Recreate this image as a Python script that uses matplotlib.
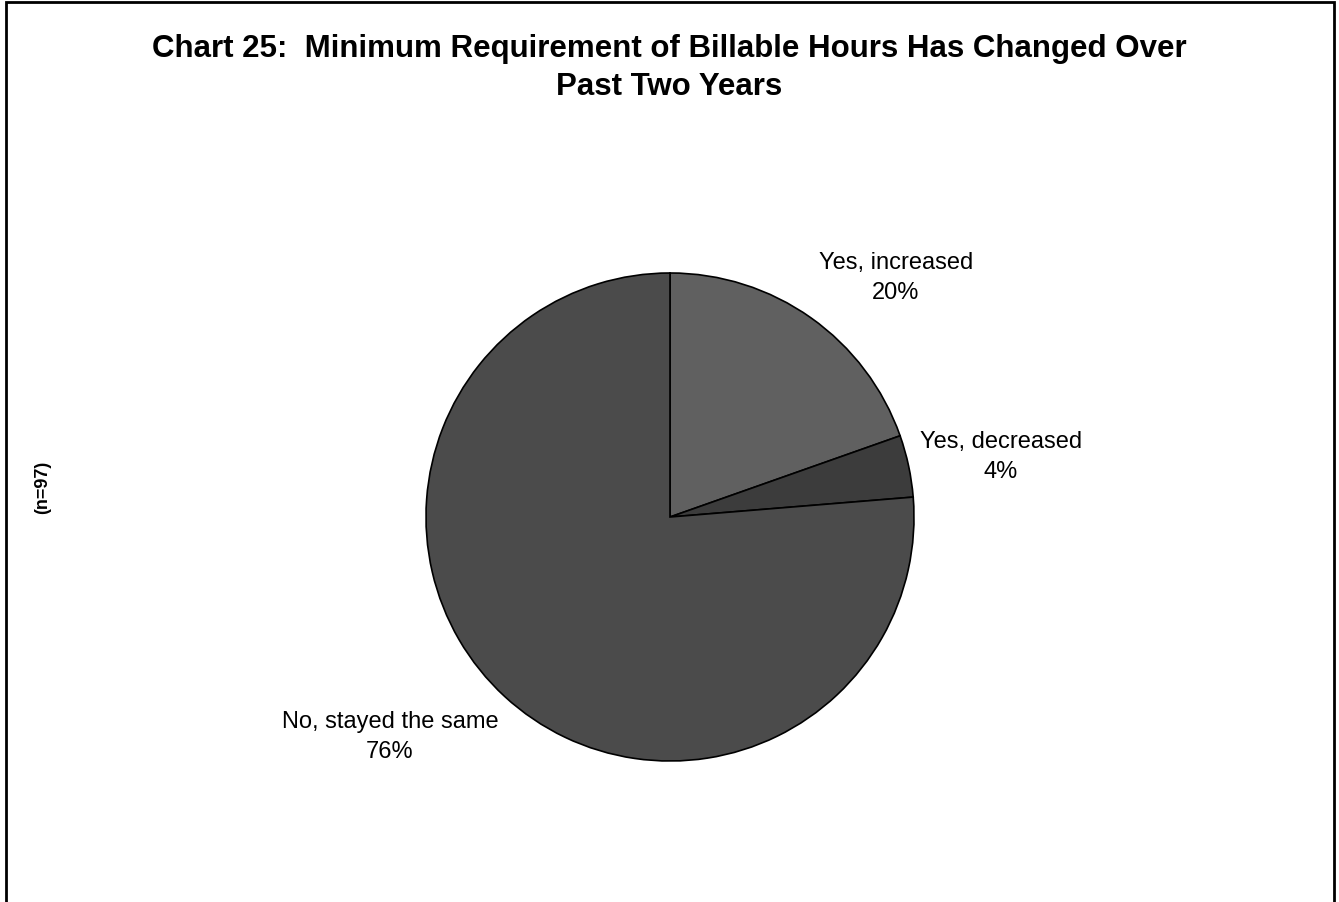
import matplotlib.pyplot as plt
from matplotlib.patches import Rectangle

plt.rcParams['font.family'] = ['Liberation Sans', 'DejaVu Sans']

categories = ['Yes, increased', 'Yes, decreased', 'No, stayed the same']
shares = [19.6, 4.1, 76.3]
pct_labels = ['20%', '4%', '76%']
colors = ['#606060', '#3c3c3c', '#4b4b4b']

W, H = 1339, 903
fig = plt.figure(figsize=(W / 100, H / 100), dpi=100)

# frame around the chart (bottom edge runs off the image)
fig.patches.append(Rectangle((6 / W, -0.02), (1334 - 6) / W, 1.02 - 3 / H,
                             transform=fig.transFigure, fill=False,
                             edgecolor='black', linewidth=2))

cx, cy, r = 670, 518, 244
ax = fig.add_axes([(cx - r) / W, (H - cy - r) / H, 2 * r / W, 2 * r / H])
ax.pie(shares, colors=colors, startangle=90, counterclock=False, radius=1,
       wedgeprops=dict(edgecolor='black', linewidth=1.2))
ax.set_xlim(-1, 1)
ax.set_ylim(-1, 1)
ax.set_aspect('equal')
ax.axis('off')

label_pos = [(0.926, 0.984), (1.357, 0.25), (-1.148, -0.898)]
for cat, pct, (lx, ly) in zip(categories, pct_labels, label_pos):
    ax.text(lx, ly, cat + '\n' + pct, ha='center', va='center',
            fontsize=17, linespacing=1.45, clip_on=False)

fig.text(0.5, 1 - 68 / H, 'Chart 25:  Minimum Requirement of Billable Hours Has Changed Over\nPast Two Years',
         ha='center', va='center', fontsize=22.5, fontweight='bold', linespacing=1.38)

fig.text(43 / W, 1 - 487 / H, '(n=97)', rotation=90, ha='center', va='center',
         fontsize=13, fontweight='bold')

fig.savefig('out.png', dpi=100)
